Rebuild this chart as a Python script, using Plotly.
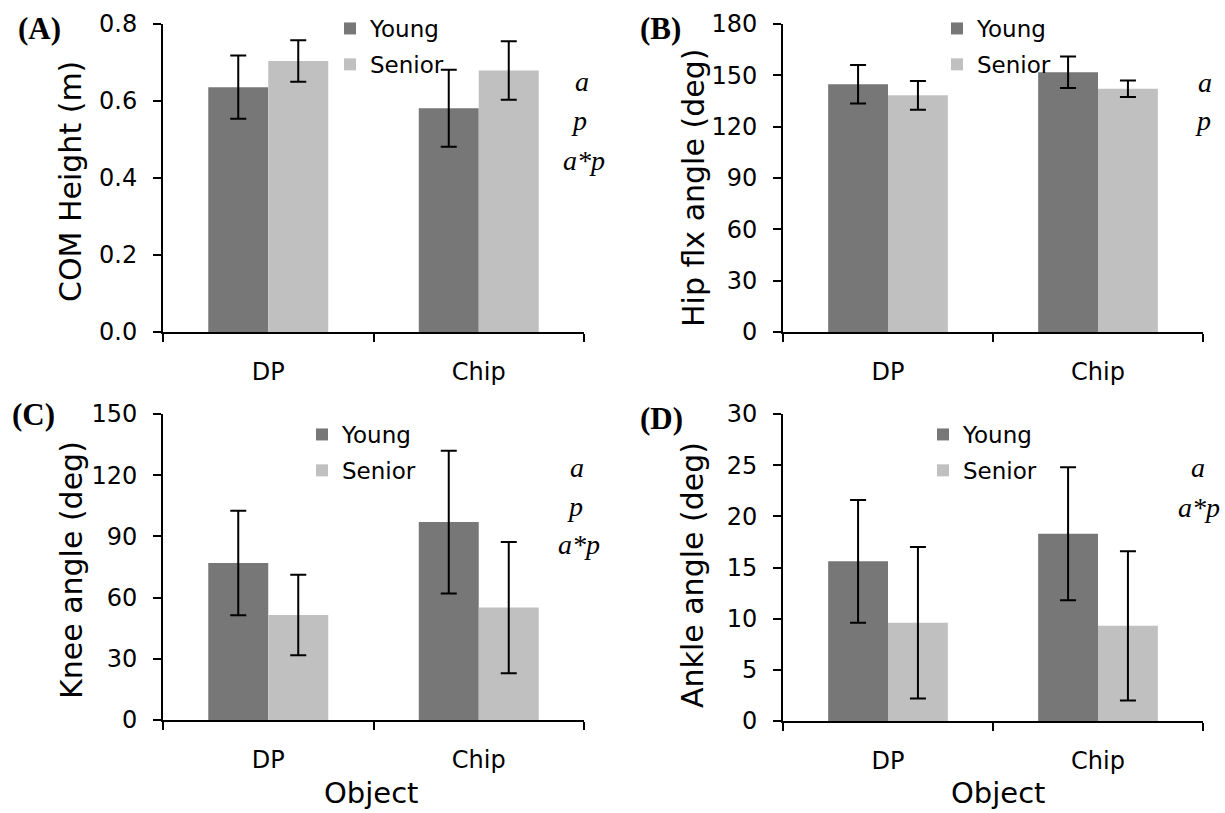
import plotly.graph_objects as go

# ---------------- data ----------------
categories = ["DP", "Chip"]
groups = ["Young", "Senior"]

com_young = [0.636, 0.581]
com_young_err = [0.082, 0.100]
com_senior = [0.704, 0.679]
com_senior_err = [0.054, 0.076]

hip_young = [144.8, 151.8]
hip_young_err = [11.2, 9.2]
hip_senior = [138.3, 142.2]
hip_senior_err = [8.4, 4.8]

knee_young = [77.0, 97.0]
knee_young_err = [25.6, 35.0]
knee_senior = [51.5, 55.1]
knee_senior_err = [19.7, 32.2]

ankle_young = [15.6, 18.3]
ankle_young_err = [6.0, 6.5]
ankle_senior = [9.6, 9.3]
ankle_senior_err = [7.4, 7.3]

panel_labels = ["(A)", "(B)", "(C)", "(D)"]
y_titles = ["COM Height (m)", "Hip flx angle (deg)", "Knee angle (deg)", "Ankle angle (deg)"]
x_title = "Object"
stat_labels = [["a", "p", "a*p"], ["a", "p"], ["a", "p", "a*p"], ["a", "a*p"]]
y_ranges = [[0, 0.8], [0, 180], [0, 150], [0, 30]]
y_dticks = [0.2, 30, 30, 5]
y_formats = [".1f", "d", "d", "d"]

W, H = 1225, 813
DARK = "#777777"
LIGHT = "#c0c0c0"
SANS = "DejaVu Sans"
SERIF = "Liberation Serif"


def px(x):
    return x / W


def py(y):
    return 1 - y / H


fig = go.Figure()

panels = [
    (com_young, com_young_err, com_senior, com_senior_err),
    (hip_young, hip_young_err, hip_senior, hip_senior_err),
    (knee_young, knee_young_err, knee_senior, knee_senior_err),
    (ankle_young, ankle_young_err, ankle_senior, ankle_senior_err),
]

# plot-area pixel boxes: (x0, x1, y_top, y_bottom)
boxes = [(163, 584, 24, 332), (783, 1203, 24, 332), (163, 584, 414, 720), (783, 1203, 414, 721)]
legend_names = ["legend", "legend2", "legend3", "legend4"]

for i, (yv, ye, sv, se) in enumerate(panels):
    xa = "x" if i == 0 else f"x{i+1}"
    ya = "y" if i == 0 else f"y{i+1}"
    for name, vals, errs, col in [(groups[0], yv, ye, DARK), (groups[1], sv, se, LIGHT)]:
        fig.add_trace(go.Bar(
            x=categories, y=vals, name=name, marker=dict(color=col, line=dict(width=0)),
            error_y=dict(type="data", array=errs, visible=True, color="black", thickness=2, width=8),
            xaxis=xa, yaxis=ya, legend=legend_names[i], legendgroup=f"{name}{i}",
        ))

layout = dict(
    width=W, height=H, margin=dict(l=0, r=0, t=0, b=0),
    paper_bgcolor="white", plot_bgcolor="white",
    barmode="group", bargap=0.43, bargroupgap=0,
    font=dict(family=SANS, size=24, color="black"),
    showlegend=True,
)

legend_pos = [(330, 7), (937, 7), (302, 413), (923, 413)]

for i, (x0, x1, yt, yb) in enumerate(boxes):
    sfx = "" if i == 0 else str(i + 1)
    layout["xaxis" + sfx] = dict(
        domain=[px(x0), px(x1)], anchor="y" + sfx, type="category", range=[-0.5, 1.5],
        showline=True, linecolor="black", linewidth=2, ticks="outside", ticklen=8,
        tickwidth=2, tickcolor="black", tickson="boundaries", showgrid=False,
        zeroline=False, tickfont=dict(family=SANS, size=24), ticklabelstandoff=17,
        automargin=False, fixedrange=True,
    )
    layout["yaxis" + sfx] = dict(
        domain=[py(yb), py(yt)], anchor="x" + sfx, range=y_ranges[i], dtick=y_dticks[i],
        tick0=0, tickformat=y_formats[i], showline=True, linecolor="black", linewidth=2,
        ticks="outside", ticklen=8, tickwidth=2, tickcolor="black", showgrid=False,
        zeroline=False, tickfont=dict(family=SANS, size=24), ticklabelstandoff=11,
        automargin=False, fixedrange=True,
    )
    lx, ly = legend_pos[i]
    layout[legend_names[i]] = dict(
        x=px(lx), y=py(ly), xanchor="left", yanchor="top", bgcolor="rgba(0,0,0,0)",
        font=dict(family=SANS, size=23, color="black"), tracegroupgap=3,
        itemclick=False, itemdoubleclick=False,
    )

fig.update_layout(**layout)

# panel labels
label_pos = [(39, 29), (660, 29), (33, 414), (661, 418)]
for t, (x, y) in zip(panel_labels, label_pos):
    fig.add_annotation(x=px(x), y=py(y), xref="paper", yref="paper", text=f"<b>{t}</b>",
                       showarrow=False, xanchor="center", yanchor="middle",
                       font=dict(family=SERIF, size=31, color="black"))

# y-axis titles
ytitle_pos = [(71, 182), (694, 188), (71, 570), (692, 575)]
for t, (x, y) in zip(y_titles, ytitle_pos):
    fig.add_annotation(x=px(x), y=py(y), xref="paper", yref="paper", text=t, textangle=-90,
                       showarrow=False, xanchor="center", yanchor="middle",
                       font=dict(family=SANS, size=30, color="black"))

# x-axis titles (bottom row)
for x in [371, 998]:
    fig.add_annotation(x=px(x), y=py(793), xref="paper", yref="paper", text=x_title,
                       showarrow=False, xanchor="center", yanchor="middle",
                       font=dict(family=SANS, size=29, color="black"))

# statistical significance labels
stat_pos = [
    [(582, 82), (579, 121), (584, 160)],
    [(1205, 83), (1203, 120)],
    [(577, 467), (575, 506), (579, 544)],
    [(1198, 467), (1199, 507)],
]
for labels, poss in zip(stat_labels, stat_pos):
    for t, (x, y) in zip(labels, poss):
        fig.add_annotation(x=px(x), y=py(y), xref="paper", yref="paper", text=f"<i>{t}</i>",
                           showarrow=False, xanchor="center", yanchor="middle",
                           font=dict(family=SERIF, size=28, color="black"))

fig.write_html(
    "out.html",
    config={"displayModeBar": False},
    post_script="document.body.style.margin='0px';document.body.style.overflow='hidden';",
)
